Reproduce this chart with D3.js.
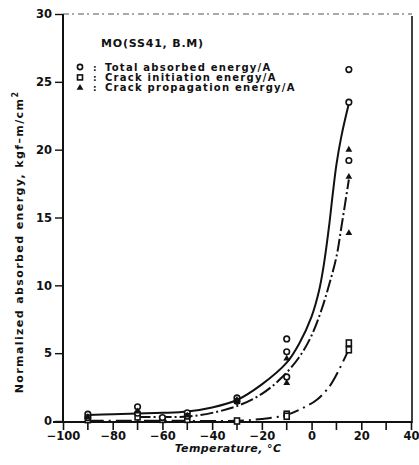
<!DOCTYPE html>
<html>
<head>
<meta charset="utf-8">
<script src="https://cdn.jsdelivr.net/npm/d3@7/dist/d3.min.js"></script>
<style>
  body { margin: 0; background: #fff; }
  text { font-family: "DejaVu Sans", sans-serif; fill: #111; }
</style>
</head>
<body>
<svg id="chart" width="419" height="465"></svg>
<script>
// measured points, [temperature, energy]
const totalPts = [[-90, 0.5], [-90, 0.25], [-70, 1.05], [-70, 0.57], [-60, 0.25], [-50, 0.6], [-50, 0.35],
    [-30, 1.7], [-30, 1.45], [-10, 6.05], [-10, 5.1], [-10, 3.25], [15, 25.9], [15, 23.5], [15, 19.2]];
const initPts = [[-90, 0.1], [-70, 0.3], [-60, 0.12], [-50, 0.12], [-30, 0.0], [-10, 0.5], [-10, 0.35],
    [15, 5.75], [15, 5.25]];
const propPts = [[-90, 0.3], [-70, 0.7], [-50, 0.4], [-30, 1.55], [-30, 1.4], [-10, 4.6], [-10, 2.8],
    [15, 20.0], [15, 18.0], [15, 13.85]];

// fitted curves as drawn on the figure
const totalCurve = [[-90, 0.45], [-80, 0.5], [-70, 0.55], [-60, 0.6], [-50, 0.7], [-40, 1.0], [-30, 1.55],
    [-20, 2.7], [-10, 4.3], [-5, 5.7], [0, 7.7], [3, 9.6], [5, 11.6], [7, 14.3], [8.5, 16.7], [10, 18.9],
    [12, 21.0], [15, 23.4]];
const propCurve = [[-70, 0.3], [-60, 0.3], [-50, 0.33], [-40, 0.6], [-30, 1.1], [-20, 2.0], [-12, 3.2],
    [-5, 4.7], [0, 6.3], [4, 8.2], [7, 10.0], [10, 12.1], [12, 14.3], [15, 17.8]];
const initCurve = [[-90, 0.02], [-60, 0.02], [-30, 0.02], [-20, 0.15], [-10, 0.45], [-3, 1.0], [2, 1.55],
    [7, 2.5], [11, 3.76], [14.5, 5.1]];

const xTicks = [-100, -80, -60, -40, -20, 0, 20, 40];
const xMinor = [-90, -70, -50, -30, -10, 10, 30];
const yTicks = [0, 5, 10, 15, 20, 25, 30];
const legendLabels = ["Total absorbed energy/A", "Crack initiation energy/A", "Crack propagation energy/A"];
const materialLabel = "MO(SS41, B.M)";

const svg = d3.select("#chart");

const x = d3.scaleLinear().domain([-100, 40]).range([63, 411]);
const y = d3.scaleLinear().domain([0, 30]).range([421, 14]);

// frame: faint dashed top, solid right
svg.append("line")
    .attr("x1", x(-100)).attr("x2", 412).attr("y1", 14).attr("y2", 14)
    .attr("stroke", "#555").attr("stroke-width", 1.2).attr("stroke-dasharray", "6,3,2,4");
svg.append("line")
    .attr("x1", 412).attr("x2", 412).attr("y1", 16).attr("y2", 423)
    .attr("stroke", "#111").attr("stroke-width", 1.6);

// x axis
const xAxis = svg.append("g")
    .attr("class", "x-axis")
    .attr("transform", "translate(0,422)")
    .call(d3.axisBottom(x)
        .tickValues(xTicks)
        .tickSize(8)
        .tickPadding(2)
        .tickFormat(d => d < 0 ? "\u2212" + Math.abs(d) : d));
xAxis.select(".domain").attr("d", "M53,0H412").attr("stroke", "#111").attr("stroke-width", 2);
xAxis.selectAll(".tick line").attr("stroke", "#111").attr("stroke-width", 1.6);
xAxis.selectAll(".tick text")
    .style("font-family", "DejaVu Sans").style("font-weight", "bold").style("font-size", "11.5px")
    .attr("fill", "#111");
xAxis.selectAll(".minor")
    .data(xMinor)
    .enter().append("line")
    .attr("class", "minor")
    .attr("x1", d => x(d)).attr("x2", d => x(d))
    .attr("y1", 0).attr("y2", 8)
    .attr("stroke", "#111").attr("stroke-width", 1.6);

// y axis
const yAxis = svg.append("g")
    .attr("class", "y-axis")
    .attr("transform", "translate(63,0)")
    .call(d3.axisLeft(y)
        .tickValues(yTicks)
        .tickSize(8)
        .tickPadding(3));
yAxis.select(".domain").attr("d", "M0,14V423").attr("stroke", "#111").attr("stroke-width", 2);
yAxis.selectAll(".tick line").attr("stroke", "#111").attr("stroke-width", 1.4);
yAxis.selectAll(".tick text")
    .style("font-family", "DejaVu Sans").style("font-weight", "bold").style("font-size", "11.5px")
    .attr("fill", "#111");

// axis titles
svg.append("text")
    .attr("x", 228).attr("y", 452)
    .attr("text-anchor", "middle")
    .style("font-size", "11px").style("font-style", "italic").style("font-weight", "bold")
    .style("letter-spacing", "0.4px")
    .text("Temperature, \u00B0C");

const yTitle = svg.append("text")
    .attr("transform", "translate(23,242) rotate(-90)")
    .attr("text-anchor", "middle")
    .style("font-size", "11px").style("font-weight", "bold").style("letter-spacing", "1.4px");
yTitle.append("tspan").text("Normalized absorbed energy, kgf\u2013m/cm");
yTitle.append("tspan").attr("dy", -5).style("font-size", "8px").text("2");

// curves
const line = d3.line()
    .x(d => x(d[0]))
    .y(d => y(d[1]))
    .curve(d3.curveCatmullRom.alpha(0.5));

svg.append("path").datum(totalCurve)
    .attr("d", line).attr("fill", "none")
    .attr("stroke", "#111").attr("stroke-width", 2);
svg.append("path").datum(propCurve)
    .attr("d", line).attr("fill", "none")
    .attr("stroke", "#111").attr("stroke-width", 2)
    .attr("stroke-dasharray", "13,3,2,3");
svg.append("path").datum(initCurve)
    .attr("d", line).attr("fill", "none")
    .attr("stroke", "#111").attr("stroke-width", 2)
    .attr("stroke-dasharray", "16,5,2,5");

// markers
svg.selectAll(".pt-init")
    .data(initPts)
    .enter().append("rect")
    .attr("class", "pt-init")
    .attr("x", d => x(d[0]) - 2.5).attr("y", d => y(d[1]) - 3)
    .attr("width", 5).attr("height", 6)
    .attr("fill", "#fff").attr("stroke", "#111").attr("stroke-width", 1.6);

svg.selectAll(".pt-total")
    .data(totalPts)
    .enter().append("circle")
    .attr("class", "pt-total")
    .attr("cx", d => x(d[0])).attr("cy", d => y(d[1]))
    .attr("r", 2.8)
    .attr("fill", "#fff").attr("stroke", "#111").attr("stroke-width", 1.6);

const tri = d3.symbol().type(d3.symbolTriangle).size(20);
svg.selectAll(".pt-prop")
    .data(propPts)
    .enter().append("path")
    .attr("class", "pt-prop")
    .attr("transform", d => "translate(" + x(d[0]) + "," + y(d[1]) + ")")
    .attr("d", tri)
    .attr("fill", "#111");

// legend
svg.append("text")
    .attr("x", 101).attr("y", 47)
    .style("font-size", "11px").style("font-weight", "bold").style("letter-spacing", "0.8px")
    .text(materialLabel);

const legend = svg.append("g").attr("class", "legend");
const legendRows = legend.selectAll("g")
    .data(legendLabels)
    .enter().append("g")
    .attr("transform", (d, i) => "translate(0," + (67 + i * 10.4) + ")");

legendRows.append("text")
    .attr("x", 93).attr("y", 3.5)
    .style("font-size", "9px").style("font-weight", "bold")
    .text(":");
legendRows.append("text")
    .attr("x", 105).attr("y", 3.5)
    .style("font-size", "10px").style("font-weight", "bold").style("letter-spacing", "1.25px")
    .text(d => d);

legendRows.filter((d, i) => i === 0).append("circle")
    .attr("cx", 80).attr("cy", 0).attr("r", 2.6)
    .attr("fill", "#fff").attr("stroke", "#111").attr("stroke-width", 1.6);
legendRows.filter((d, i) => i === 1).append("rect")
    .attr("x", 77.5).attr("y", -2.5).attr("width", 5).attr("height", 5)
    .attr("fill", "#fff").attr("stroke", "#111").attr("stroke-width", 1.6);
legendRows.filter((d, i) => i === 2).append("path")
    .attr("transform", "translate(80,0)")
    .attr("d", tri).attr("fill", "#111");
</script>
</body>
</html>
